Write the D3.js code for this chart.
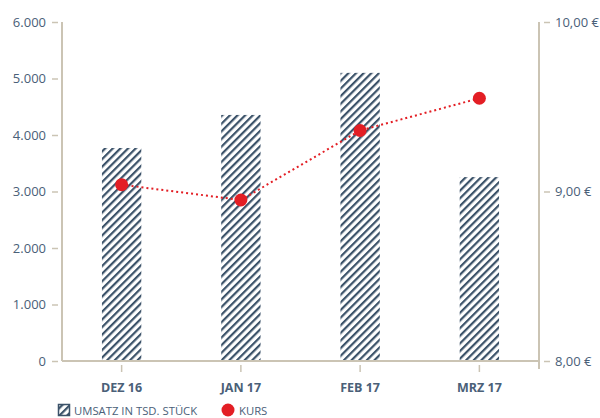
<!DOCTYPE html>
<html>
<head>
<meta charset="utf-8">
<script src="https://cdn.jsdelivr.net/npm/d3@7"></script>
<style>
  body { margin: 0; background: #fff; }
  text { font-family: "Open Sans", "Noto Sans", sans-serif; }
</style>
</head>
<body>
<div id="chart"></div>
<script>
// data
const months = ['DEZ 16', 'JAN 17', 'FEB 17', 'MRZ 17']
const umsatz = [3770, 4355, 5100, 3255]
const kurs = [9.04, 8.95, 9.36, 9.55]
const leftTicks = [0, 1000, 2000, 3000, 4000, 5000, 6000]
const rightTicks = [8, 9, 10]

const width = 600, height = 418
const margin = {top: 22, right: 61, bottom: 57, left: 62}
const axisColor = '#cbc4b4', textColor = '#4a6078', barColor = '#3b5269', red = '#e31e24'

const svg = d3.select('#chart').append('svg')
    .attr('width', width)
    .attr('height', height)

// hatch pattern for the bars
const defs = svg.append('defs')
defs.append('pattern')
    .attr('id', 'hatch')
    .attr('patternUnits', 'userSpaceOnUse')
    .attr('width', 5.4)
    .attr('height', 5.4)
    .attr('patternTransform', 'rotate(45)')
  .append('rect')
    .attr('x', 0).attr('y', 0)
    .attr('width', 2.2).attr('height', 5.4)
    .attr('fill', barColor)

let x = d3.scaleBand()
    .domain(months)
    .range([margin.left, width - margin.right])
    .paddingInner(0.67)
    .paddingOuter(0.335)
let y = d3.scaleLinear()
    .domain([0, 6000])
    .range([height - margin.bottom, margin.top])
let y2 = d3.scaleLinear()
    .domain([8, 10])
    .range([height - margin.bottom, margin.top])

const fmtLeft = d => d3.format(',')(d).replace(/,/g, '.')
const fmtRight = d => d.toFixed(2).replace('.', ',') + ' €'

// bars
svg.append('g')
    .selectAll('rect')
    .data(months)
    .join('rect')
    .attr('x', d => x(d))
    .attr('y', (d, i) => y(umsatz[i]))
    .attr('width', x.bandwidth())
    .attr('height', (d, i) => y(0) - y(umsatz[i]))
    .attr('fill', 'url(#hatch)')

// left axis
let left = svg.append('g')
    .attr('transform', `translate(${margin.left},0)`)
    .call(d3.axisLeft(y).tickValues(leftTicks).tickFormat(fmtLeft).tickSize(0).tickPadding(16))
left.select('.domain').remove()
left.selectAll('.tick').append('line')
    .attr('x1', -10).attr('x2', -4)
    .attr('stroke', axisColor).attr('stroke-width', 1.5)
left.selectAll('text')
    .attr('fill', textColor).attr('font-size', 13)

// right axis
let right = svg.append('g')
    .attr('transform', `translate(${width - margin.right},0)`)
    .call(d3.axisRight(y2).tickValues(rightTicks).tickFormat(fmtRight).tickSize(0).tickPadding(16))
right.select('.domain').remove()
right.selectAll('.tick').append('line')
    .attr('x1', 5).attr('x2', 11)
    .attr('stroke', axisColor).attr('stroke-width', 1.5)
right.selectAll('text')
    .attr('fill', textColor).attr('font-size', 13)

// bottom axis
let bottom = svg.append('g')
    .attr('transform', `translate(0,${height - margin.bottom})`)
    .call(d3.axisBottom(x).tickSize(0).tickPadding(22))
bottom.select('.domain').remove()
bottom.selectAll('.tick').append('line')
    .attr('y1', 4).attr('y2', 11)
    .attr('stroke', axisColor).attr('stroke-width', 1.5)
bottom.selectAll('text')
    .attr('fill', textColor).attr('font-size', 12.5).attr('font-weight', 'bold')

// frame lines
svg.append('g')
    .attr('stroke', axisColor)
    .attr('stroke-width', 2)
    .call(g => g.append('line')
        .attr('x1', margin.left).attr('x2', margin.left)
        .attr('y1', margin.top).attr('y2', y(0)))
    .call(g => g.append('line')
        .attr('x1', width - margin.right).attr('x2', width - margin.right)
        .attr('y1', margin.top).attr('y2', y(0) + 8))
    .call(g => g.append('line')
        .attr('x1', margin.left).attr('x2', width - margin.right)
        .attr('y1', y(0)).attr('y2', y(0)))

// kurs line
let line = d3.line()
    .x((d, i) => x(months[i]) + x.bandwidth() / 2)
    .y(d => y2(d))
svg.append('path')
    .datum(kurs)
    .attr('d', line)
    .attr('fill', 'none')
    .attr('stroke', red)
    .attr('stroke-width', 2)
    .attr('stroke-dasharray', '2,3')
svg.append('g')
    .selectAll('circle')
    .data(kurs)
    .join('circle')
    .attr('cx', (d, i) => x(months[i]) + x.bandwidth() / 2)
    .attr('cy', d => y2(d))
    .attr('r', 6.5)
    .attr('fill', red)

// legend
let legend = svg.append('g')
    .attr('font-size', 11.3)
    .attr('fill', textColor)
legend.append('rect')
    .attr('x', 58.5).attr('y', 404.5)
    .attr('width', 11).attr('height', 11)
    .attr('fill', 'url(#hatch)')
    .attr('stroke', barColor).attr('stroke-width', 1.5)
legend.append('text')
    .attr('x', 74).attr('y', 414.5)
    .text('UMSATZ IN TSD. STÜCK')
legend.append('circle')
    .attr('cx', 228).attr('cy', 410)
    .attr('r', 6.5)
    .attr('fill', red)
legend.append('text')
    .attr('x', 239).attr('y', 414.5)
    .text('KURS')
</script>
</body>
</html>
